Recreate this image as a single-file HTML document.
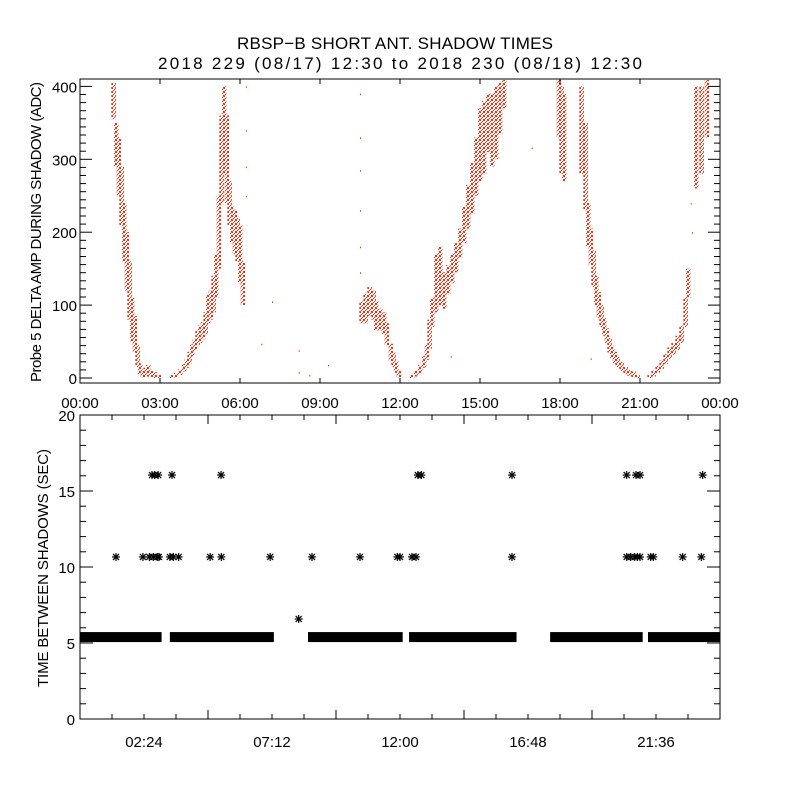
<!DOCTYPE html>
<html><head><meta charset="utf-8">
<style>
html,body{margin:0;padding:0;background:#fff;}
svg{display:block;font-family:"Liberation Sans",sans-serif;}
text{fill:#000;}
</style></head>
<body>
<svg id="chart" width="800" height="800" viewBox="0 0 800 800">
<defs>
<pattern id="speck" width="4" height="4" patternUnits="userSpaceOnUse">
<rect x="0" y="0" width="1" height="1" fill="#ff2200"/>
<rect x="2" y="1" width="1" height="1" fill="#ff2200"/>
<rect x="1" y="2" width="1" height="1" fill="#ff2200"/>
<rect x="3" y="3" width="1" height="1" fill="#ff2200"/>
<rect x="3" y="0" width="1" height="1" fill="#ff3311"/>
<rect x="0" y="3" width="1" height="1" fill="#ff3311"/>
</pattern>
</defs>
<rect width="800" height="800" fill="#fff"/>
<text x="395" y="49" font-size="17" text-anchor="middle" textLength="316">RBSP−B SHORT ANT. SHADOW TIMES</text>
<text x="400" y="69" font-size="17" text-anchor="middle" textLength="484">2018 229 (08/17) 12:30 to 2018 230 (08/18) 12:30</text>
<g id="topPanel"></g>
<g id="botPanel"></g>
</svg>
<script>
// ---- top panel data: hour, ADC value, spread ----
const ampHours = [1.25,1.35,1.45,1.55,1.65,1.75,1.85,1.95,2.05,2.15,2.25,2.35,2.45,2.55,2.65,2.8,2.95,
3.45,3.6,3.75,3.9,4.0,4.1,4.2,4.3,4.4,4.5,4.6,4.7,4.8,4.9,5.0,5.1,5.2,5.3,5.4,5.5,5.6,5.7,5.8,5.9,6.0,6.1,
10.55,10.7,10.85,11.0,11.1,11.25,11.4,11.5,11.65,11.75,11.85,11.95,
12.45,12.6,12.75,12.9,13.0,13.1,13.2,13.35,13.5,13.65,13.8,13.95,14.1,14.25,14.4,14.55,14.7,14.85,15.0,15.15,15.3,15.45,15.6,15.75,15.9,
17.95,18.05,18.15,
18.8,18.95,19.05,19.15,19.25,19.35,19.45,19.55,19.65,19.75,19.85,19.95,20.05,20.15,20.3,20.45,20.6,20.75,20.9,
21.35,21.5,21.65,21.8,21.95,22.1,22.25,22.4,22.55,22.7,22.8,23.1,23.3,23.5];
const ampValues = [380,320,290,250,200,160,120,80,60,30,12,6,8,10,6,4,2,
2,4,8,14,20,28,38,45,55,60,65,75,95,100,115,140,200,300,340,300,240,210,200,190,170,130,
90,95,105,100,85,80,75,60,35,25,15,6,
2,6,12,22,35,60,90,130,140,120,135,150,165,185,210,235,260,290,320,330,350,340,350,370,390,
370,340,330,
340,290,210,180,150,120,100,85,70,58,45,35,28,22,16,10,7,5,2,
2,6,12,18,26,34,40,48,60,90,130,330,340,370];
const ampSpread = [25,30,40,40,40,40,40,30,25,15,8,5,6,8,5,4,2,
2,3,4,5,6,8,8,8,10,12,12,15,20,20,25,30,50,60,60,60,30,25,30,30,40,30,
15,20,20,20,20,15,15,15,12,10,8,5,
2,4,6,8,10,20,20,40,40,25,20,20,20,20,25,30,35,40,50,50,40,50,50,35,20,
40,60,60,
60,60,30,25,25,20,18,15,12,10,10,8,8,7,6,5,4,4,2,
2,4,5,6,7,8,8,10,12,20,20,70,60,40];
const singleHours = [6.22,6.22,6.22,6.22,7.2,6.8,8.2,8.2,8.6,9.3,10.5,10.5,10.5,10.5,10.5,10.5,13.9,16.94,19.15,22.9,22.95];
const singleValues = [400,340,290,250,105,47,38,8,4,18,390,330,285,230,180,145,30,316,27,240,200];
const ampTicks = [0,100,200,300,400];
const hourTicks = [0,3,6,9,12,15,18,21,24];
const hourLabels = ["00:00","03:00","06:00","09:00","12:00","15:00","18:00","21:00","00:00"];

// ---- bottom panel data ----
const bandStart = [0,3.37,8.55,12.34,17.63,21.3];
const bandEnd = [3.06,7.27,12.1,16.37,21.1,24];
const bandValue = 5.39;
const starHours = [8.2,1.35,2.36,2.6,2.75,2.9,2.96,3.37,3.5,3.7,4.88,5.3,7.13,8.7,10.5,11.9,12.0,12.45,12.6,16.2,20.5,20.65,20.8,20.9,21.0,21.4,21.5,22.6,23.3,
2.7,2.8,2.93,3.45,5.29,12.67,12.8,16.2,20.5,20.85,21.0,23.35];
const starValues = [6.58,10.66,10.66,10.66,10.66,10.66,10.66,10.66,10.66,10.66,10.66,10.66,10.66,10.66,10.66,10.66,10.66,10.66,10.66,10.66,10.66,10.66,10.66,10.66,10.66,10.66,10.66,10.66,10.66,
16.05,16.05,16.05,16.05,16.05,16.05,16.05,16.05,16.05,16.05,16.05,16.05];
const secTicks = [0,5,10,15,20];
const secTickHours = [2.4,7.2,12.0,16.8,21.6];
const secTickLabels = ["02:24","07:12","12:00","16:48","21:36"];

const NS="http://www.w3.org/2000/svg";
function mk(tag,attrs,parent){const e=document.createElementNS(NS,tag);for(const k in attrs)e.setAttribute(k,attrs[k]);parent.appendChild(e);return e;}
const L=80,R=720;
const X=h=>L+h*(R-L)/24;
const T0=79,T1=383;
const Ya=v=>378-v*0.729;
const topG=document.getElementById('topPanel');
const botG=document.getElementById('botPanel');

for(let i=0;i<ampHours.length;i++){
  const y1=Ya(ampValues[i]+ampSpread[i]), y2=Ya(Math.max(ampValues[i]-ampSpread[i],-4));
  const yt=Math.max(y1,T0+1), yb=Math.min(y2,T1-1);
  const r=mk('rect',{x:X(ampHours[i])-2,y:yt,width:4.5,height:Math.max(yb-yt,2),fill:'url(#speck)'},topG);
  
  
}
for(let i=0;i<singleHours.length;i++){
  const r=mk('rect',{x:X(singleHours[i]),y:Ya(singleValues[i]),width:1,height:1.5,fill:'#ff2200'},topG);
  
  
}
const tf=mk('rect',{x:L,y:T0,width:R-L,height:T1-T0,fill:'none',stroke:'#000','stroke-width':1},topG);


for(let k=0;k<ampTicks.length;k++){
  const y=Ya(ampTicks[k]);
  mk('line',{x1:L,x2:L+12,y1:y,y2:y,stroke:'#000'},topG);
  mk('line',{x1:R,x2:R-12,y1:y,y2:y,stroke:'#000'},topG);
  const t=mk('text',{x:L-3,y:y+6,'font-size':15,'text-anchor':'end'},topG);
  t.textContent=ampTicks[k];
  
  
  if(k<ampTicks.length-1){
    for(let m=1;m<9;m++){
      const yy=y+(Ya(ampTicks[k+1])-y)*m/9;
      mk('line',{x1:L,x2:L+6,y1:yy,y2:yy,stroke:'#000'},topG);
      mk('line',{x1:R,x2:R-6,y1:yy,y2:yy,stroke:'#000'},topG);
    }
  }
}
for(let k=0;k<hourTicks.length;k++){
  const x=X(hourTicks[k]);
  mk('line',{x1:x,x2:x,y1:T0,y2:T0+5,stroke:'#000'},topG);
  mk('line',{x1:x,x2:x,y1:T1,y2:T1-5,stroke:'#000'},topG);
  const t=mk('text',{x:x,y:408,'font-size':15,'text-anchor':'middle'},topG);
  t.textContent=hourLabels[k];
  
  
}
const ta=mk('text',{x:0,y:0,'font-size':15,'text-anchor':'middle',transform:'translate(41,232) rotate(-90)',textLength:300},topG);
ta.textContent='Probe 5 DELTA AMP DURING SHADOW (ADC)';



const B0=415,B1=719;
const Ys=v=>B1-v*(B1-B0)/20;
function star(cx,cy,name){
  const g=mk('g',{stroke:'#000','stroke-width':1.2},botG);
  
  
  mk('line',{x1:cx-4,x2:cx+4,y1:cy,y2:cy},g);
  mk('line',{x1:cx,x2:cx,y1:cy-4,y2:cy+4},g);
  mk('line',{x1:cx-3,x2:cx+3,y1:cy-3,y2:cy+3},g);
  mk('line',{x1:cx-3,x2:cx+3,y1:cy+3,y2:cy-3},g);
}
for(let i=0;i<bandStart.length;i++){
  const x1=X(bandStart[i]),x2=X(bandEnd[i]);
  const r=mk('rect',{x:x1,y:Ys(bandValue)-5,width:x2-x1,height:10,fill:'#000'},botG);
  
  
}
for(let i=0;i<starHours.length;i++) star(X(starHours[i]),Ys(starValues[i]),'interval-star');
const bf=mk('rect',{x:L,y:B0,width:R-L,height:B1-B0,fill:'none',stroke:'#000'},botG);


for(let k=0;k<secTicks.length;k++){
  const y=Ys(secTicks[k]);
  mk('line',{x1:L,x2:L+13,y1:y,y2:y,stroke:'#000'},botG);
  mk('line',{x1:R,x2:R-13,y1:y,y2:y,stroke:'#000'},botG);
  const t=mk('text',{x:L-5,y:y+6,'font-size':15,'text-anchor':'end'},botG);
  t.textContent=secTicks[k];
  
  
  if(k<secTicks.length-1){
    for(let m=1;m<5;m++){
      const yy=y+(Ys(secTicks[k+1])-y)*m/5;
      mk('line',{x1:L,x2:L+6,y1:yy,y2:yy,stroke:'#000'},botG);
      mk('line',{x1:R,x2:R-6,y1:yy,y2:yy,stroke:'#000'},botG);
    }
  }
}
for(let m=1;m<20;m++){
  const x=X(m*1.2);
  const len=(m%4===0)?9:5;
  mk('line',{x1:x,x2:x,y1:B0,y2:B0+len,stroke:'#000'},botG);
  mk('line',{x1:x,x2:x,y1:B1,y2:B1-len,stroke:'#000'},botG);
}
for(let k=0;k<secTickHours.length;k++){
  const t=mk('text',{x:X(secTickHours[k]),y:747,'font-size':15,'text-anchor':'middle'},botG);
  t.textContent=secTickLabels[k];
  
  
}
const tb=mk('text',{x:0,y:0,'font-size':15,'text-anchor':'middle',transform:'translate(48,568) rotate(-90)',textLength:238},botG);
tb.textContent='TIME BETWEEN SHADOWS (SEC)';


</script>
</body></html>
